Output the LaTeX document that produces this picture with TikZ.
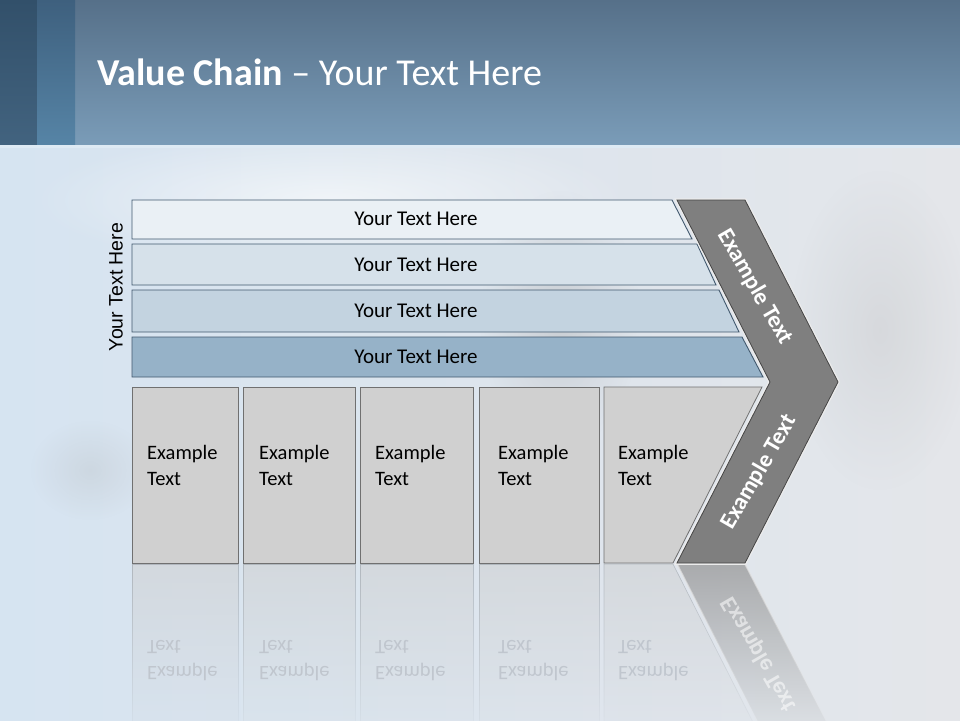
\documentclass[tikz,border=0pt]{standalone}
\usepackage{fontspec}
\setmainfont{Carlito}
\newfontfamily\sidefont{Liberation Sans}
\usetikzlibrary{calc,fadings,shadings}
\newcommand*{\yMirror}{1126}
\definecolor{HeadTop}{RGB}{86,112,137}
\definecolor{HeadBot}{RGB}{122,156,184}
\definecolor{StripATop}{RGB}{50,80,106}
\definecolor{StripABot}{RGB}{66,99,127}
\definecolor{StripBTop}{RGB}{62,96,126}
\definecolor{StripBBot}{RGB}{86,132,166}
\definecolor{HeadLine}{RGB}{222,234,244}
\definecolor{BgLeft}{RGB}{214,228,241}
\definecolor{BgRight}{RGB}{228,230,234}
\definecolor{RowA}{RGB}{234,240,245}
\definecolor{RowB}{RGB}{214,225,234}
\definecolor{RowC}{RGB}{195,211,224}
\definecolor{RowD}{RGB}{150,178,200}
\definecolor{RowLine}{RGB}{66,89,110}
\definecolor{BoxFill}{RGB}{208,208,208}
\definecolor{BoxLine}{RGB}{112,112,112}
\definecolor{Chev}{RGB}{127,127,127}
\definecolor{Ghost}{RGB}{192,198,206}
\tikzfading[name=fade down, top color=transparent!30, bottom color=transparent!100]
\tikzfading[name=soft blob, inner color=transparent!0, outer color=transparent!100]

\begin{document}
\begin{tikzpicture}[x=1pt,y=-1pt,
  rowbar/.style={fill=#1,draw=RowLine,line width=0.9pt},
  box/.style={fill=BoxFill,draw=BoxLine,line width=0.8pt},
  ghostbox/.style={fill=BoxFill!80!BgLeft,draw=BoxLine!50!BgLeft,line width=0.6pt,path fading=fade down},
  bartext/.style={font=\fontsize{21}{25}\selectfont,text=black},
  boxtext/.style={font=\fontsize{20.5}{26}\selectfont,align=left,anchor=west,inner sep=0pt,text=black},
  ghosttext/.style={boxtext,text=Ghost,yscale=-1},
  chevtext/.style={font=\bfseries\fontsize{23.5}{28}\selectfont,text=white}]
\useasboundingbox (0,0) rectangle (960,720);

% background
\shade[left color=BgLeft,right color=BgRight] (0,145) rectangle (960,720);
\fill[white,path fading=soft blob,opacity=0.6] (330,200) ellipse (300 and 70);
\fill[gray!70,path fading=soft blob,opacity=0.35] (560,320) ellipse (80 and 130);
\fill[gray!60,path fading=soft blob,opacity=0.25] (880,330) ellipse (90 and 160);
\fill[gray!70,path fading=soft blob,opacity=0.2] (90,470) ellipse (60 and 50);

% header
\shade[top color=HeadTop,bottom color=HeadBot] (0,0) rectangle (960,145);
\shade[top color=StripATop,bottom color=StripABot] (0,0) rectangle (37,145);
\shade[top color=StripBTop,bottom color=StripBBot] (37,0) rectangle (75,145);
\fill[HeadLine] (0,145) rectangle (960,148);
\node[anchor=base west,text=white,font=\fontsize{38}{44}\selectfont,inner sep=0pt] (title) at (97,85)
  {\textbf{Value Chain} -- Your Text Here};

% side label
\node[rotate=90,font=\sidefont\fontsize{19.5}{23}\selectfont] (side) at (116,287) {Your Text Here};

% rows
\filldraw[rowbar=RowA] (132,200)--(672,200)--(692,239)--(132,239)--cycle;
\filldraw[rowbar=RowB] (132,244)--(697,244)--(716,285)--(132,285)--cycle;
\filldraw[rowbar=RowC] (132,290)--(719,290)--(739,332)--(132,332)--cycle;
\filldraw[rowbar=RowD] (132,337)--(742,337)--(763,377)--(132,377)--cycle;
\node[bartext] (rowA) at (416,219) {Your Text Here};
\node[bartext] (rowB) at (416,265) {Your Text Here};
\node[bartext] (rowC) at (416,311) {Your Text Here};
\node[bartext] (rowD) at (416,357) {Your Text Here};

% reflections
\filldraw[ghostbox] (132,564) rectangle (238,740);
\filldraw[ghostbox] (243,564) rectangle (355,740);
\filldraw[ghostbox] (360,564) rectangle (473,740);
\filldraw[ghostbox] (479,564) rectangle (599,740);
\filldraw[ghostbox] (604,564)--(673,564)--(762,740)--(604,740)--cycle;
\filldraw[fill=Chev!85!white,draw=white!80!gray,line width=1.5pt,path fading=fade down]
  (677,564)--(745,564)--(838,745)--(770,745)--cycle;
\node[ghosttext] (ghostA) at (147,\yMirror-465) {Example\\Text};
\node[ghosttext] (ghostB) at (259,\yMirror-465) {Example\\Text};
\node[ghosttext] (ghostC) at (375,\yMirror-465) {Example\\Text};
\node[ghosttext] (ghostD) at (498,\yMirror-465) {Example\\Text};
\node[ghosttext] (ghostE) at (618,\yMirror-465) {Example\\Text};
\node[chevtext,rotate=-60,yscale=-1,opacity=0.55] (ghostChev) at (759,\yMirror-472) {Example Text};

% activity boxes
\filldraw[box] (132,387) rectangle (238,563);
\filldraw[box] (243,387) rectangle (355,563);
\filldraw[box] (360,387) rectangle (473,563);
\filldraw[box] (479,387) rectangle (599,563);
\filldraw[box] (604,387)--(762,387)--(673,563)--(604,563)--cycle;
\node[boxtext] (boxA) at (147,465) {Example\\Text};
\node[boxtext] (boxB) at (259,465) {Example\\Text};
\node[boxtext] (boxC) at (375,465) {Example\\Text};
\node[boxtext] (boxD) at (498,465) {Example\\Text};
\node[boxtext] (boxE) at (618,465) {Example\\Text};

% chevron
\filldraw[fill=Chev,draw=Chev!55!black,line width=0.8pt,
  preaction={draw=white!85!gray,line width=3.5pt}]
  (677,200)--(745,200)--(838,382)--(745,563)--(677,563)--(770,382)--cycle;
\node[chevtext,rotate=-60] (chevUp) at (755,287) {Example Text};
\node[chevtext,rotate=60] (chevDown) at (759,472) {Example Text};
\end{tikzpicture}
\end{document}
